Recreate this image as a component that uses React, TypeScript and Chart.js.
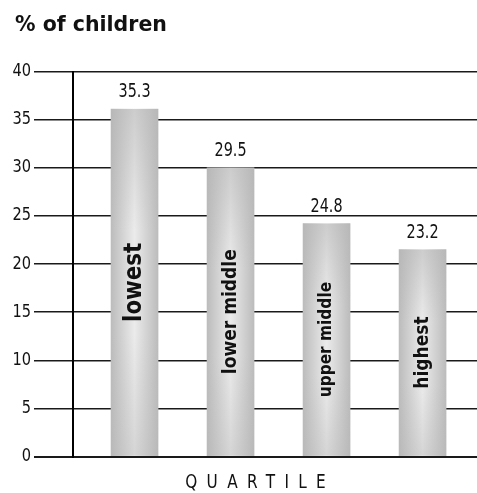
import React, { useEffect, useRef } from "react";
import { Chart, registerables } from "chart.js";

Chart.register(...registerables);

const chartTitle = "% of children";
const axisTitle = "QUARTILE";
const categories = ["lowest", "lower middle", "upper middle", "highest"];
const barHeights = [36.1, 30.0, 24.2, 21.5];
const printedValues = ["35.3", "29.5", "24.8", "23.2"];
const yMin = 0;
const yMax = 40;
const yStep = 5;

// styling (not data)
const barLabelSizes = [25, 20, 18, 20];
const COND = '"DejaVu Sans Condensed", "DejaVu Sans", sans-serif';

function drawScaled(ctx: any, text: string, x: number, y: number, sx: number) {
  ctx.save();
  ctx.translate(x, y);
  ctx.scale(sx, 1);
  ctx.fillText(text, 0, 0);
  ctx.restore();
}

const textPlugin = {
  id: "textPlugin",
  afterDatasetsDraw(chart: any) {
    const ctx = chart.ctx;
    const meta = chart.getDatasetMeta(0);
    meta.data.forEach((el: any, i: number) => {
      const { x, y, base, width } = el.getProps(["x", "y", "base", "width"], true);
      // vertical shading overlay
      ctx.save();
      const vg = ctx.createLinearGradient(0, y, 0, base);
      vg.addColorStop(0, "rgba(180,180,180,0.55)");
      vg.addColorStop(0.35, "rgba(180,180,180,0)");
      vg.addColorStop(0.65, "rgba(180,180,180,0)");
      vg.addColorStop(1, "rgba(180,180,180,0.4)");
      ctx.fillStyle = vg;
      ctx.fillRect(x - width / 2, y, width, base - y);
      ctx.restore();

      ctx.save();
      ctx.fillStyle = "#111";
      ctx.textAlign = "center";
      ctx.textBaseline = "alphabetic";
      ctx.font = `20px ${COND}`;
      drawScaled(ctx, printedValues[i], x, y - 12, 0.8);
      ctx.translate(x, (y + base) / 2);
      ctx.rotate(-Math.PI / 2);
      ctx.textBaseline = "middle";
      ctx.font = `bold ${barLabelSizes[i]}px ${COND}`;
      ctx.scale(0.95, 1);
      ctx.fillText(categories[i], 0, 0);
      ctx.restore();
    });
  },
  afterDraw(chart: any) {
    const ctx = chart.ctx;
    const area = chart.chartArea;
    const ys = chart.scales.y;
    const tickLen = ys.options.grid.tickLength;

    // y tick labels
    ctx.save();
    ctx.fillStyle = "#111";
    ctx.font = `18px ${COND}`;
    ctx.textAlign = "right";
    ctx.textBaseline = "alphabetic";
    ys.ticks.forEach((t: any) => {
      const py = ys.getPixelForValue(t.value);
      drawScaled(ctx, String(t.value), area.left - tickLen - 3, py + 4.5, 0.9);
    });
    ctx.restore();

    // chart title
    ctx.save();
    ctx.fillStyle = "#111";
    ctx.font = `bold 20.5px "DejaVu Sans", sans-serif`;
    ctx.textAlign = "left";
    ctx.textBaseline = "alphabetic";
    ctx.fillText(chartTitle, 15, 31);
    ctx.restore();

    // x axis title
    const cx = (area.left - tickLen + area.right) / 2;
    const sx = 0.85;
    const spacing = 11;
    ctx.save();
    ctx.fillStyle = "#111";
    ctx.font = `20px ${COND}`;
    ctx.textAlign = "center";
    ctx.textBaseline = "alphabetic";
    ctx.translate(cx, area.bottom + 31.5);
    ctx.scale(sx, 1);
    (ctx as any).letterSpacing = `${spacing}px`;
    ctx.fillText(axisTitle, spacing / 2, 0);
    ctx.restore();
  },
};

export default function App() {
  const ref = useRef<HTMLCanvasElement | null>(null);

  useEffect(() => {
    if (!ref.current) return;
    const chart = new Chart(ref.current, {
      type: "bar",
      data: {
        datasets: [
          {
            data: barHeights.map((v, i) => ({ x: i, y: v })),
            barThickness: 47,
            borderWidth: 0,
            backgroundColor: (c: any) => {
              const chart = c.chart;
              const xs = chart.scales.x;
              if (!xs || c.dataIndex === undefined) return "#d0d0d0";
              const cx = xs.getPixelForValue(c.dataIndex);
              const w = 47;
              if (!isFinite(cx)) return "#d0d0d0";
              const g = chart.ctx.createLinearGradient(cx - w / 2, 0, cx + w / 2, 0);
              g.addColorStop(0, "#bcbcbc");
              g.addColorStop(0.5, "#ebebeb");
              g.addColorStop(1, "#bcbcbc");
              return g;
            },
          },
        ],
      },
      options: {
        animation: false,
        responsive: false,
        layout: { padding: { left: 0, right: 0, top: 71.5, bottom: 36.4 } },
        plugins: {
          legend: { display: false },
          tooltip: { enabled: false },
          title: { display: false },
        },
        scales: {
          x: {
            type: "linear",
            offset: false,
            min: -0.641,
            max: 3.567,
            display: false,
          },
          y: {
            min: yMin,
            max: yMax,
            afterFit: (s: any) => {
              s.width = 73;
            },
            ticks: {
              stepSize: yStep,
              display: false,
            },
            grid: {
              color: "#1a1a1a",
              lineWidth: (c: any) => (c.tick && c.tick.value === 0 ? 2 : 1.5),
              drawTicks: true,
              tickLength: 39,
            },
            border: { display: true, color: "#000", width: 2 },
          },
        },
      },
      plugins: [textPlugin],
    } as any);
    return () => chart.destroy();
  }, []);

  return (
    <div style={{ position: "absolute", left: 0, top: 0, width: 477, height: 493, background: "#fff" }}>
      <canvas ref={ref} width={477} height={493} style={{ display: "block" }} />
    </div>
  );
}
